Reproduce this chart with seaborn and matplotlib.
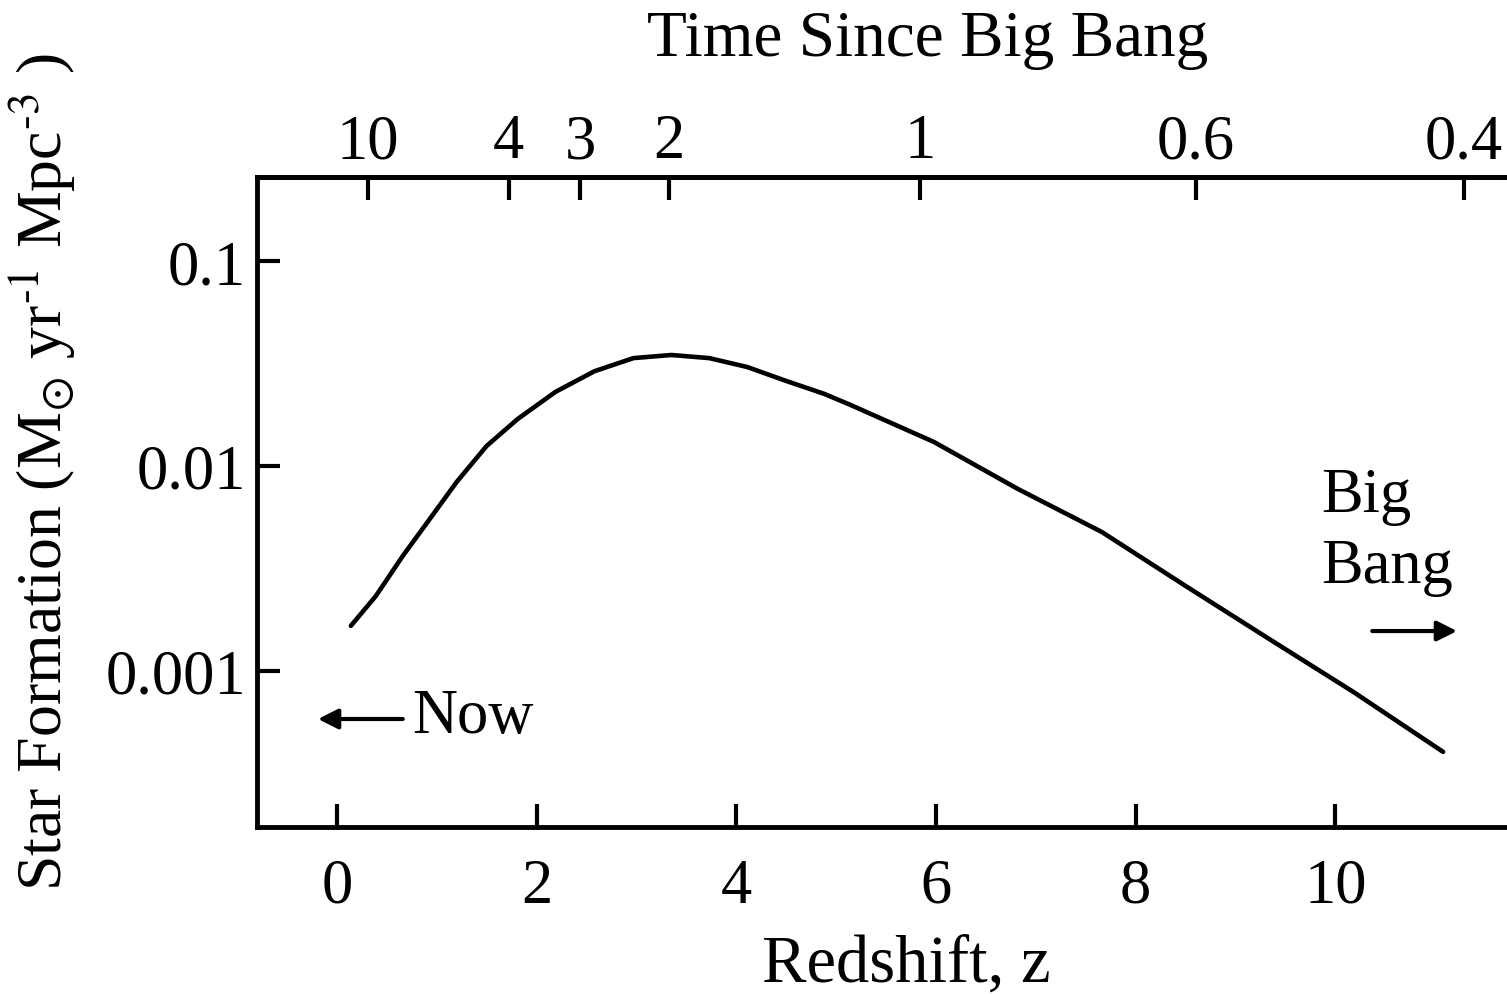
import matplotlib
matplotlib.use("Agg")
import matplotlib.pyplot as plt
import seaborn as sns
import pandas as pd
from matplotlib.ticker import FixedLocator, NullLocator

# star formation history
redshift = [0.14, 0.39, 0.66, 0.93, 1.20, 1.50, 1.81, 2.19, 2.58, 2.97, 3.35,
            3.73, 4.11, 4.50, 4.88, 5.14, 5.98, 6.82, 7.66, 8.50, 9.34, 10.18, 11.08]
sfr = [0.00166, 0.00232, 0.00364, 0.00551, 0.00836, 0.01253, 0.01694, 0.0230,
       0.0290, 0.0336, 0.0348, 0.0336, 0.0304, 0.0260, 0.0225, 0.0199, 0.0131,
       0.00773, 0.00477, 0.00260, 0.00143, 0.000791, 0.000403]

bottom_ticks = [0, 2, 4, 6, 8, 10]
y_ticks = [0.1, 0.01, 0.001]
y_tick_labels = ["0.1", "0.01", "0.001"]
# time since big bang (top axis) placed at redshift positions
top_tick_z = [0.31, 1.72, 2.44, 3.33, 5.84, 8.60, 11.29]
top_tick_labels = ["10", "4", "3", "2", "1", "0.6", "0.4"]


def main():
    sns.set_theme(style="white")
    plt.rcParams["font.family"] = ["Liberation Serif", "DejaVu Serif"]
    plt.rcParams["mathtext.fontset"] = "stix"
    plt.rcParams["text.color"] = "black"
    plt.rcParams["axes.labelcolor"] = "black"
    plt.rcParams["xtick.color"] = "black"
    plt.rcParams["ytick.color"] = "black"

    df = pd.DataFrame({"z": redshift, "sfr": sfr})

    fig = plt.figure(figsize=(15.07, 9.95), dpi=100)
    ax = fig.add_axes([257 / 1507, 1 - 828 / 995, (1520 - 257) / 1507, 650 / 995])

    sns.lineplot(data=df, x="z", y="sfr", ax=ax, color="black", lw=3.3)

    ax.set_yscale("log")
    ax.set_xlim(-0.80, 11.85)
    ax.set_ylim(1.733e-4, 0.257)

    ax.xaxis.set_major_locator(FixedLocator(bottom_ticks))
    ax.set_xticklabels([str(t) for t in bottom_ticks])
    ax.yaxis.set_major_locator(FixedLocator(y_ticks))
    ax.yaxis.set_minor_locator(NullLocator())
    ax.set_yticklabels(y_tick_labels)

    for s in ax.spines.values():
        s.set_color("black")
        s.set_linewidth(3.5)

    ax.tick_params(axis="both", which="major", direction="in", length=16.5, width=3,
                   color="black", labelsize=45, labelcolor="black")
    ax.tick_params(axis="x", pad=22, bottom=True)
    ax.tick_params(axis="y", pad=8, left=True)

    top = ax.secondary_xaxis("top")
    top.xaxis.set_major_locator(FixedLocator(top_tick_z))
    top.set_xticklabels(top_tick_labels)
    top.tick_params(axis="x", direction="in", length=16.5, width=3, color="black",
                    labelsize=45, labelcolor="black", pad=4, top=True)
    top.spines["top"].set_linewidth(3.5)
    ax.text(0.531, 1.212, "Time Since Big Bang", transform=ax.transAxes,
            fontsize=47, ha="center", va="center")

    ax.set_xlabel("Redshift, z", fontsize=48, va="center")
    ax.xaxis.set_label_coords(0.514, -0.211)
    ax.set_ylabel(r"Star Formation (M$_{\odot}$ yr$^{\text{-1}}$ Mpc$^{\text{-3}}$ )",
                  fontsize=46, va="center")
    ax.yaxis.set_label_coords(-0.170, 0.547)

    arrow = dict(arrowstyle="-|>", color="black", lw=3, mutation_scale=30,
                 shrinkA=0, shrinkB=0)
    ax.annotate("", xy=(-0.19, 0.000583), xytext=(0.66, 0.000583), arrowprops=arrow)
    ax.text(0.75, 0.000504, "Now", fontsize=45, ha="left", va="baseline")

    ax.text(9.86, 0.006034, "Big", fontsize=45, ha="left", va="baseline")
    ax.text(9.86, 0.002716, "Bang", fontsize=45, ha="left", va="baseline")
    ax.annotate("", xy=(11.22, 0.001566), xytext=(10.37, 0.001566), arrowprops=arrow)

    fig.savefig("out.png", dpi=100)
    plt.close(fig)


if __name__ == "__main__":
    main()
